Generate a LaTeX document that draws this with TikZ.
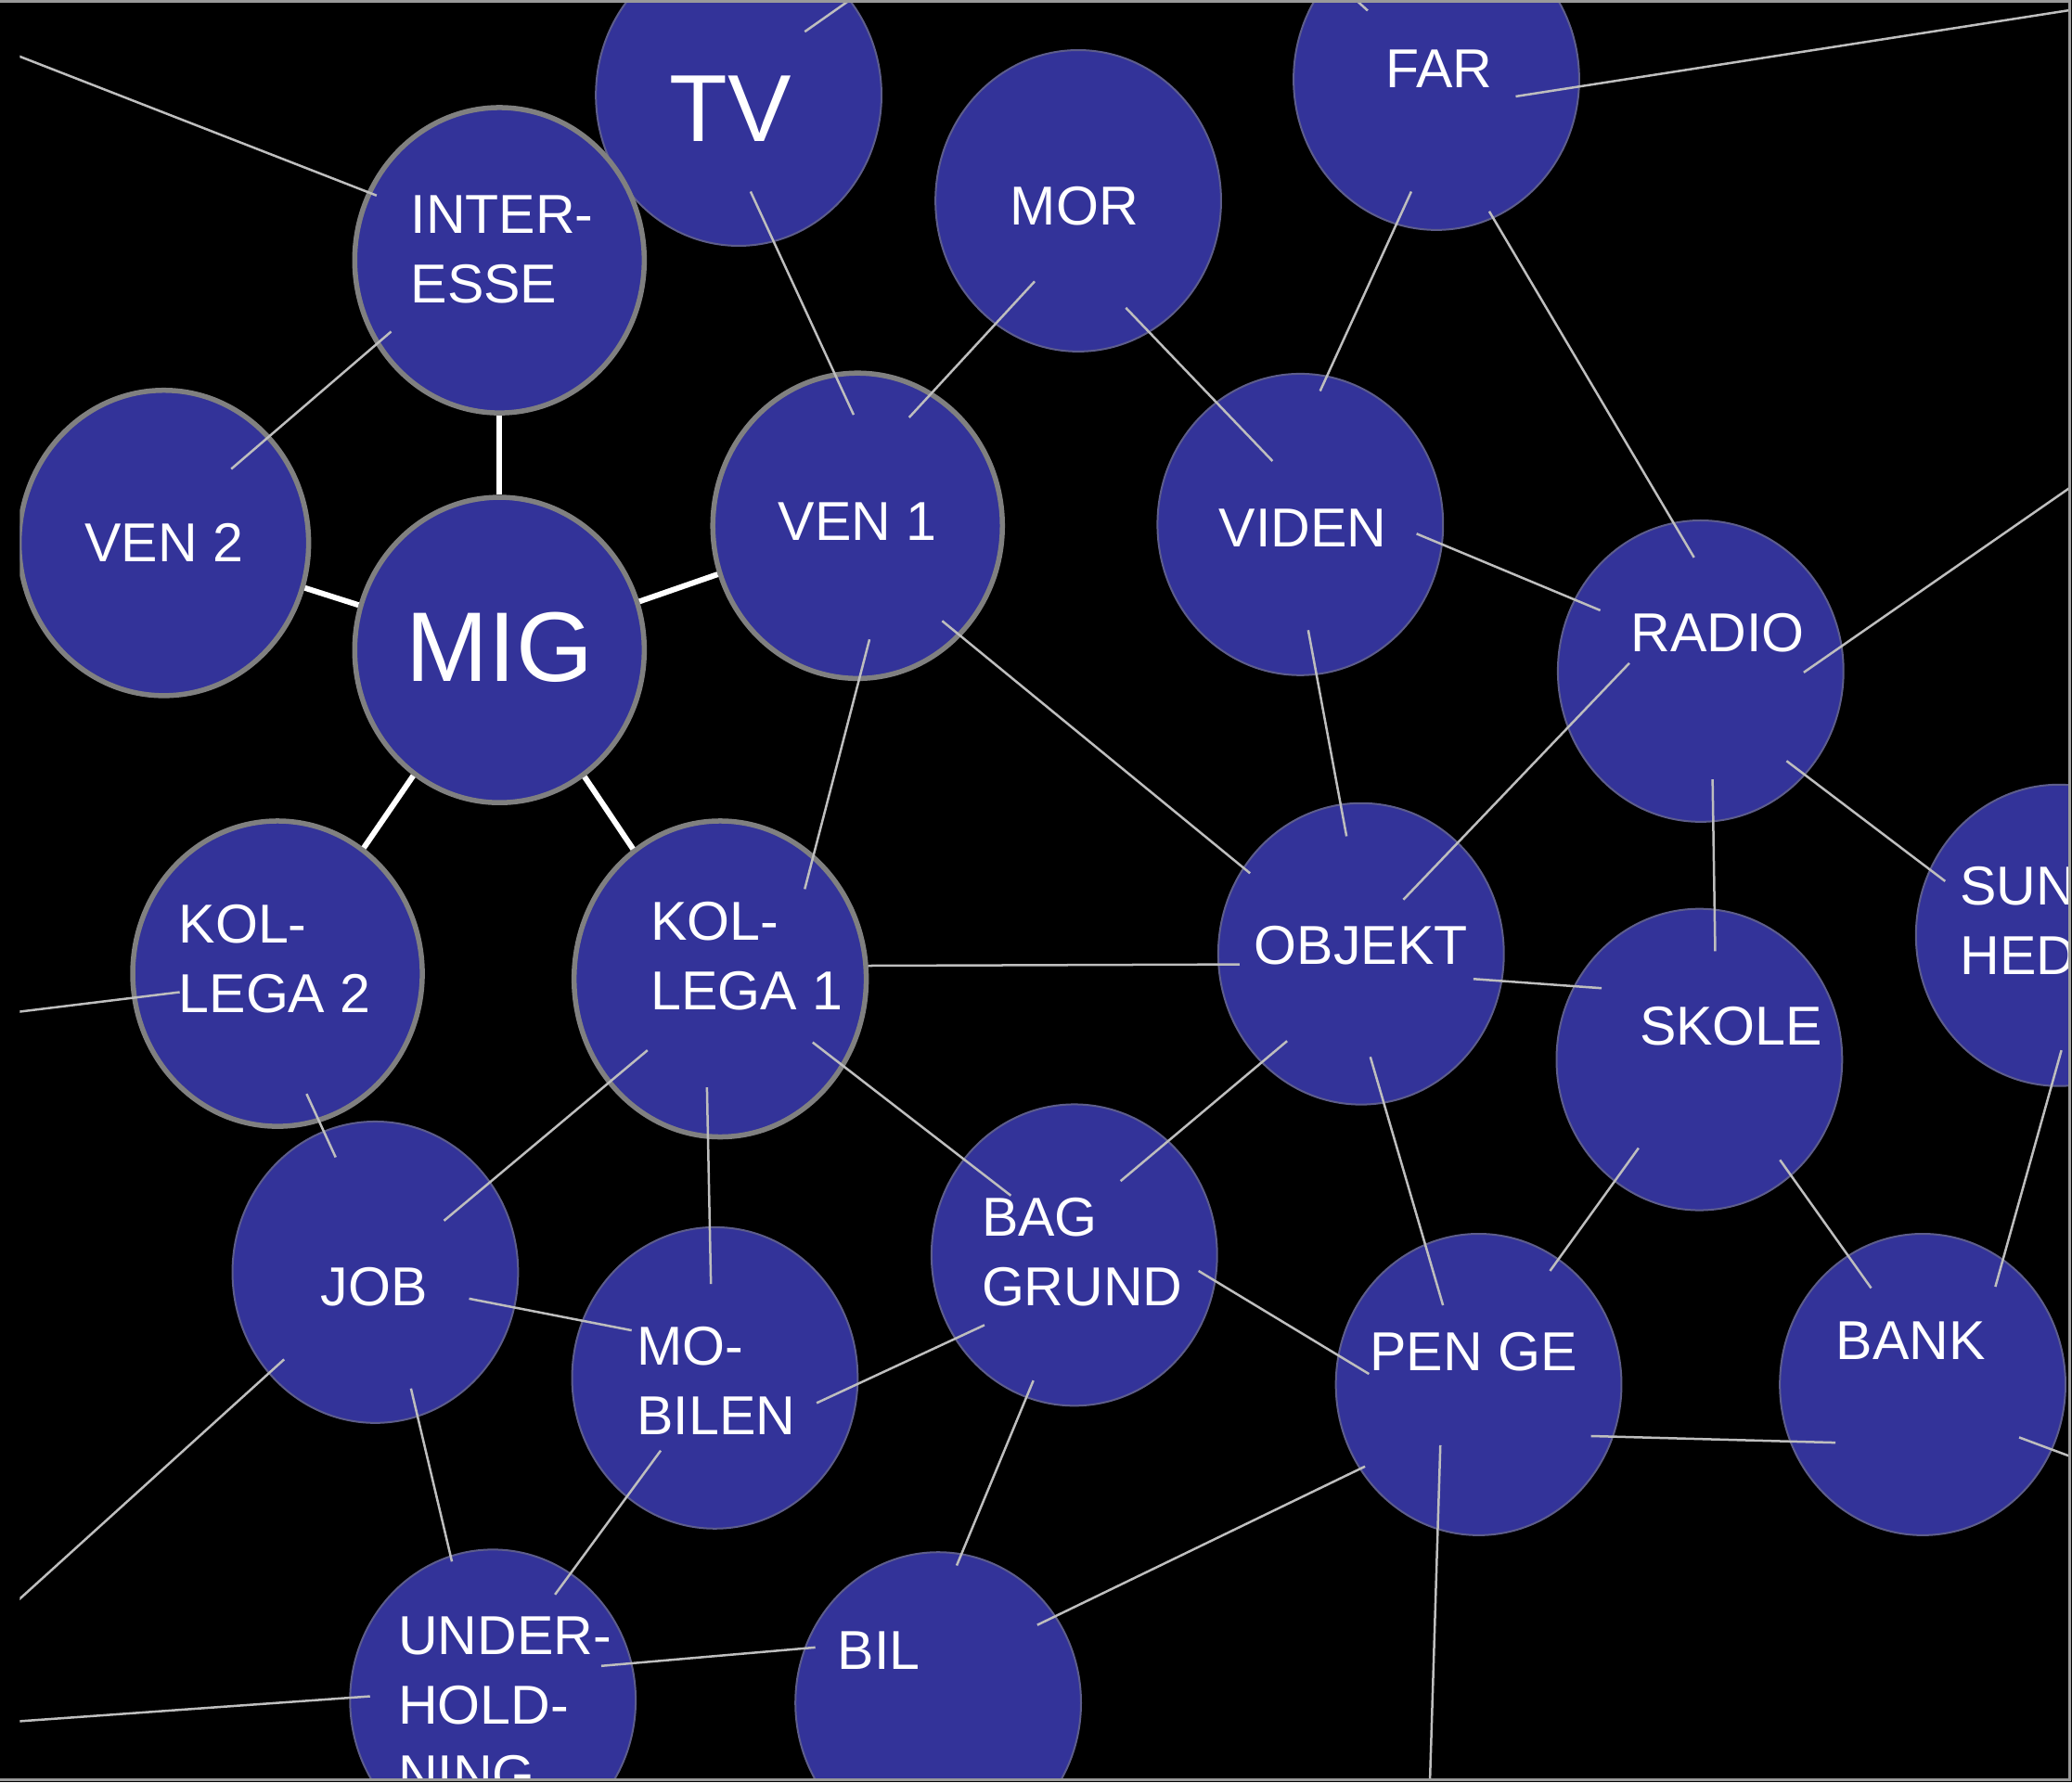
\documentclass[tikz,border=0pt]{standalone}
\usepackage{fontspec}
\setmainfont{Liberation Sans}
\usepackage{tikz}
\usetikzlibrary{shapes.geometric}
\definecolor{bubblue}{HTML}{333399}
\definecolor{ringgray}{HTML}{808080}
\definecolor{linkgray}{HTML}{BEBEBE}
\tikzstyle{bubble} = [ellipse, minimum width=2.16cm, minimum height=2.28cm, inner sep=0pt, fill=bubblue, draw=gray!55!bubblue, line width=0.4pt]
\tikzstyle{ringed} = [bubble, minimum width=2.19cm, minimum height=2.31cm, draw=ringgray, line width=1.1pt]
\tikzstyle{lbl} = [text=white, inner sep=0pt, align=left, font=\fontsize{11.8}{15}\selectfont]
\tikzstyle{link} = [line width=0.5pt, draw=linkgray]
\tikzstyle{spoke} = [line width=1.2pt, draw=white]

\begin{document}
\begin{tikzpicture}[x=0.01cm, y=-0.01cm]
    \useasboundingbox (0,0) rectangle (1568,1349);
    \fill [black] (0,0) rectangle (1568,1349);

    \begin{scope}
    \clip (15,1) rectangle (1567,1348);

    % bubbles
    \node (tv) [bubble, label={[lbl, font=\fontsize{20.5}{24}\selectfont, shift={(-6,10)}]center:TV}] at (559,72) {};
    \node (mor) [bubble, label={[lbl, shift={(-3,4)}]center:MOR}] at (816,152) {};
    \node (far) [bubble, label={[lbl, shift={(2,-8)}]center:FAR}] at (1087,60) {};
    \node (int) [ringed, label={[lbl, shift={(2,-8)}]center:{INTER-\\ESSE}}] at (378,197) {};
    \node (ven2) [ringed, label={[lbl]center:VEN 2}] at (124,411) {};
    \node (mig) [ringed, label={[lbl, font=\fontsize{21.3}{25}\selectfont, shift={(0,-2)}]center:MIG}] at (378,492) {};
    \node (ven1) [ringed, label={[lbl, shift={(0,-3)}]center:VEN 1}] at (649,398) {};
    \node (viden) [bubble, label={[lbl, shift={(2,3)}]center:VIDEN}] at (984,397) {};
    \node (radio) [bubble, label={[lbl, shift={(13,-29)}]center:RADIO}] at (1287,508) {};
    \node (objekt) [bubble, label={[lbl, shift={(0,-6)}]center:OBJEKT}] at (1030,722) {};
    \node (sund) [bubble, label={[lbl, shift={(-9,-11)}]center:{SUND-\\HED}}] at (1558,708) {};
    \node (skole) [bubble, label={[lbl, shift={(24,-25)}]center:SKOLE}] at (1286,802) {};
    \node (job) [bubble, label={[lbl, shift={(-1,11)}]center:JOB}] at (284,963) {};
    \node (kol2) [ringed, label={[lbl, shift={(-2,-11)}]center:{KOL-\\LEGA 2}}] at (210,737) {};
    \node (kol1) [ringed, minimum width=2.21cm, minimum height=2.39cm, label={[lbl, shift={(20,-17)}]center:{KOL-\\LEGA 1}}] at (545,741) {};
    \node (mobil) [bubble, label={[lbl, shift={(1,2)}]center:{MO-\\BILEN}}] at (541,1043) {};
    \node (bag) [bubble, label={[lbl, shift={(6,-2)}]center:{BAG\\GRUND}}] at (813,950) {};
    \node (penge) [bubble, label={[lbl, shift={(-4,-25)}]center:PEN GE}] at (1119,1048) {};
    \node (bank) [bubble, label={[lbl, shift={(-9,-33)}]center:BANK}] at (1455,1048) {};
    \node (under) [bubble, label={[lbl, shift={(9,4)}]center:{UNDER-\\HOLD-\\NING}}] at (373,1287) {};
    \node (bil) [bubble, label={[lbl, shift={(-45,-40)}]center:BIL}] at (710,1289) {};

    % loose ends leaving the frame
    \coordinate (out-int) at (13,42);
    \coordinate (out-tv) at (646,-2);
    \coordinate (out-far) at (1571,7);
    \coordinate (out-far2) at (1024,-2);
    \coordinate (out-radio) at (1571,366);
    \coordinate (out-kol2) at (13,766);
    \coordinate (out-job) at (13,1212);
    \coordinate (out-penge) at (1082,1352);
    \coordinate (out-bank) at (1571,1104);
    \coordinate (out-under) at (13,1303);

    % links to MIG
    \draw [spoke] (mig) -- (int);
    \draw [spoke] (mig) -- (ven2);
    \draw [spoke] (mig) -- (ven1);
    \draw [spoke] (mig) -- (kol2);
    \draw [spoke] (mig) -- (kol1);

    % thin links
    \draw [link] (out-int) -- ([shift={(-93,-49)}]int.center);
    \draw [link] ([shift={(51,-56)}]ven2.center) -- ([shift={(-82,54)}]int.center);
    \draw [link] ([shift={(9,73)}]tv.center) -- ([shift={(-3,-84)}]ven1.center);
    \draw [link] ([shift={(50,-48)}]tv.center) -- (out-tv);
    \draw [link] ([shift={(-33,61)}]mor.center) -- ([shift={(39,-82)}]ven1.center);
    \draw [link] ([shift={(36,81)}]mor.center) -- ([shift={(-21,-48)}]viden.center);
    \draw [link] ([shift={(-19,85)}]far.center) -- ([shift={(15,-101)}]viden.center);
    \draw [link] ([shift={(40,100)}]far.center) -- ([shift={(-5,-86)}]radio.center);
    \draw [link] ([shift={(60,13)}]far.center) -- (out-far);
    \draw [link] ([shift={(-52,-52)}]far.center) -- (out-far2);
    \draw [link] ([shift={(88,7)}]viden.center) -- ([shift={(-76,-46)}]radio.center);
    \draw [link] ([shift={(6,80)}]viden.center) -- ([shift={(-11,-89)}]objekt.center);
    \draw [link] ([shift={(9,86)}]ven1.center) -- ([shift={(64,-68)}]kol1.center);
    \draw [link] ([shift={(64,72)}]ven1.center) -- ([shift={(-84,-61)}]objekt.center);
    \draw [link] ([shift={(78,1)}]radio.center) -- (out-radio);
    \draw [link] ([shift={(-54,-6)}]radio.center) -- ([shift={(32,-41)}]objekt.center);
    \draw [link] ([shift={(9,82)}]radio.center) -- ([shift={(12,-82)}]skole.center);
    \draw [link] ([shift={(65,68)}]radio.center) -- ([shift={(-86,-41)}]sund.center);
    \draw [link] ([shift={(112,-10)}]kol1.center) -- ([shift={(-92,8)}]objekt.center);
    \draw [link] ([shift={(85,19)}]objekt.center) -- ([shift={(-74,-54)}]skole.center);
    \draw [link] ([shift={(-74,14)}]kol2.center) -- (out-kol2);
    \draw [link] ([shift={(22,91)}]kol2.center) -- ([shift={(-30,-87)}]job.center);
    \draw [link] ([shift={(-55,54)}]kol1.center) -- ([shift={(52,-39)}]job.center);
    \draw [link] ([shift={(-10,82)}]kol1.center) -- ([shift={(-3,-71)}]mobil.center);
    \draw [link] ([shift={(70,48)}]kol1.center) -- ([shift={(-48,-45)}]bag.center);
    \draw [link] ([shift={(-56,66)}]objekt.center) -- ([shift={(35,-56)}]bag.center);
    \draw [link] ([shift={(7,78)}]objekt.center) -- ([shift={(-27,-60)}]penge.center);
    \draw [link] ([shift={(-46,67)}]skole.center) -- ([shift={(54,-86)}]penge.center);
    \draw [link] ([shift={(61,76)}]skole.center) -- ([shift={(-39,-73)}]bank.center);
    \draw [link] ([shift={(2,87)}]sund.center) -- ([shift={(55,-74)}]bank.center);
    \draw [link] ([shift={(71,20)}]job.center) -- ([shift={(-63,-36)}]mobil.center);
    \draw [link] ([shift={(-69,66)}]job.center) -- (out-job);
    \draw [link] ([shift={(27,88)}]job.center) -- ([shift={(-31,-105)}]under.center);
    \draw [link] ([shift={(77,19)}]mobil.center) -- ([shift={(-68,53)}]bag.center);
    \draw [link] ([shift={(-41,55)}]mobil.center) -- ([shift={(47,-80)}]under.center);
    \draw [link] ([shift={(94,12)}]bag.center) -- ([shift={(-83,-8)}]penge.center);
    \draw [link] ([shift={(-31,95)}]bag.center) -- ([shift={(14,-104)}]bil.center);
    \draw [link] ([shift={(85,39)}]penge.center) -- ([shift={(-66,44)}]bank.center);
    \draw [link] ([shift={(-86,62)}]penge.center) -- ([shift={(75,-59)}]bil.center);
    \draw [link] ([shift={(-29,46)}]penge.center) -- (out-penge);
    \draw [link] ([shift={(73,40)}]bank.center) -- (out-bank);
    \draw [link] ([shift={(82,-26)}]under.center) -- ([shift={(-93,-42)}]bil.center);
    \draw [link] ([shift={(-93,-3)}]under.center) -- (out-under);
    \end{scope}

    % frame
    \draw [ringgray!80, line width=0.6pt] (0,1) -- (1566.5,1) -- (1566.5,1347.5) -- (0,1347.5);
\end{tikzpicture}
\end{document}
